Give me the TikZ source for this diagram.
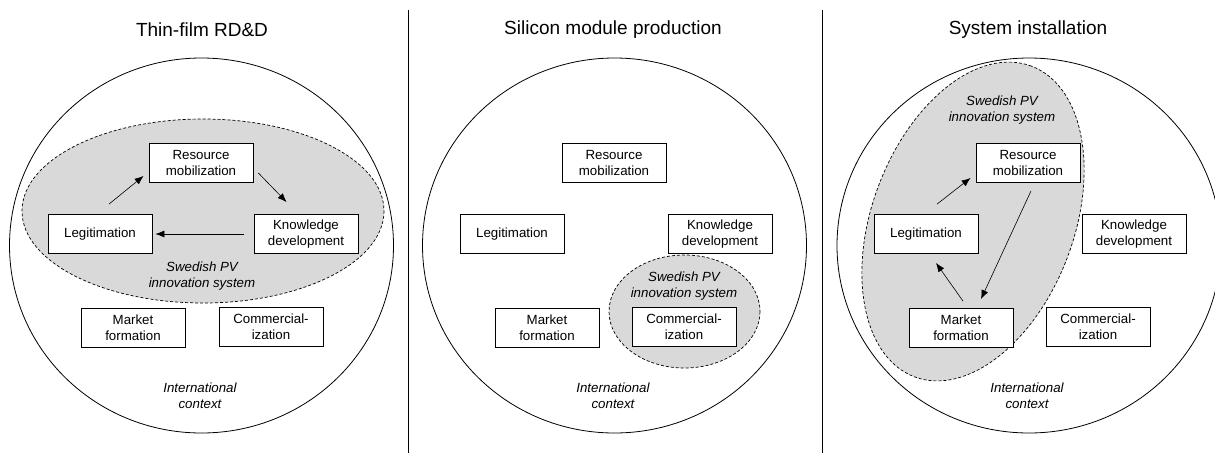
\documentclass[tikz,border=0pt]{standalone}
\usepackage{fontspec}
\setmainfont{Liberation Sans}
\usetikzlibrary{arrows.meta}
\definecolor{sysgray}{RGB}{217,217,217}
\tikzset{
  box/.style={draw=black, line width=0.8pt, fill=white, minimum width=104pt, minimum height=39pt, inner sep=0pt, align=center, font=\fontsize{13.3}{16}\selectfont},
  ctx/.style={align=center, font=\fontsize{13.3}{16}\selectfont\itshape},
  ttl/.style={font=\fontsize{19}{22}\selectfont},
  outer/.style={draw=black, line width=0.8pt},
  sys/.style={draw=black, fill=sysgray, line width=0.7pt, dash pattern=on 3pt off 2pt},
  arr/.style={draw=black, line width=0.6pt, -{Latex[length=9pt,width=7pt]}},
  divider/.style={draw=black, line width=1pt}
}
\begin{document}
\begin{tikzpicture}[x=1pt,y=-1pt]
\useasboundingbox (0,0) rectangle (1215,453);
% dividers
\coordinate (d1t) at (408,10); \coordinate (d1b) at (408,453);
\coordinate (d2t) at (822,10); \coordinate (d2b) at (822,453);
\draw[divider] (d1t) -- (d1b);
\draw[divider] (d2t) -- (d2b);

% ---------- Panel 1 ----------
\node[ttl] (t1) at (202,30) {Thin-film RD\&D};
\draw[outer] (201.5,245.5) ellipse [x radius=192, y radius=187.5];
\draw[sys] (203,211) ellipse [x radius=181, y radius=92];
\node[ctx] (s1) at (202,276) {Swedish PV\\innovation system};
\node[ctx] (i1) at (200,396) {International\\context};
\node[box] (R1) at (201,163) {Resource\\mobilization};
\node[box] (L1) at (100,234) {Legitimation};
\node[box] (K1) at (306,234) {Knowledge\\development};
\node[box] (M1) at (133,328) {Market\\formation};
\node[box] (C1) at (271,327) {Commercial-\\ization};
\draw[arr] ([xshift=9pt,yshift=10pt]L1.north) -- ([xshift=-5pt,yshift=7pt]R1.south west);
\draw[arr] ([xshift=5pt,yshift=-10pt]R1.east) -- ([xshift=33pt,yshift=12pt]K1.north west);
\draw[arr] ([xshift=-10pt]K1.west) -- ([xshift=3pt]L1.east);

% ---------- Panel 2 ----------
\node[ttl] (t2) at (613,30) {Silicon module production};
\draw[outer] (614.5,245.5) ellipse [x radius=192, y radius=187.5];
\draw[sys] (684.5,311.5) ellipse [x radius=75.5, y radius=56.5];
\node[ctx] (s2) at (684,286.5) {Swedish PV\\innovation system};
\node[ctx] (i2) at (613,396) {International\\context};
\node[box] (R2) at (614,163) {Resource\\mobilization};
\node[box] (L2) at (512,234) {Legitimation};
\node[box] (K2) at (720,234) {Knowledge\\development};
\node[box] (M2) at (547,328) {Market\\formation};
\node[box] (C2) at (684,327) {Commercial-\\ization};

% ---------- Panel 3 ----------
\node[ttl] (t3) at (1028,30) {System installation};
\draw[outer] (1029,245.5) ellipse [x radius=192, y radius=187.5];
\draw[sys, shift={(973,221.5)}, rotate=69.4] (0,0) ellipse [x radius=166pt, y radius=101pt];
\node[ctx] (s3) at (1002,110) {Swedish PV\\innovation system};
\node[ctx] (i3) at (1027,396) {International\\context};
\node[box] (R3) at (1028,163) {Resource\\mobilization};
\node[box] (L3) at (926,234) {Legitimation};
\node[box] (K3) at (1134,234) {Knowledge\\development};
\node[box] (M3) at (961,328) {Market\\formation};
\node[box] (C3) at (1098,327) {Commercial-\\ization};
\draw[arr] ([xshift=11pt,yshift=10pt]L3.north) -- ([xshift=-5pt,yshift=5pt]R3.south west);
\draw[arr] ([xshift=3pt,yshift=-8pt]R3.south) -- ([xshift=20pt,yshift=9pt]M3.north);
\draw[arr] ([xshift=2pt,yshift=7pt]M3.north) -- ([xshift=10pt,yshift=-9pt]L3.south);
\end{tikzpicture}
\end{document}
